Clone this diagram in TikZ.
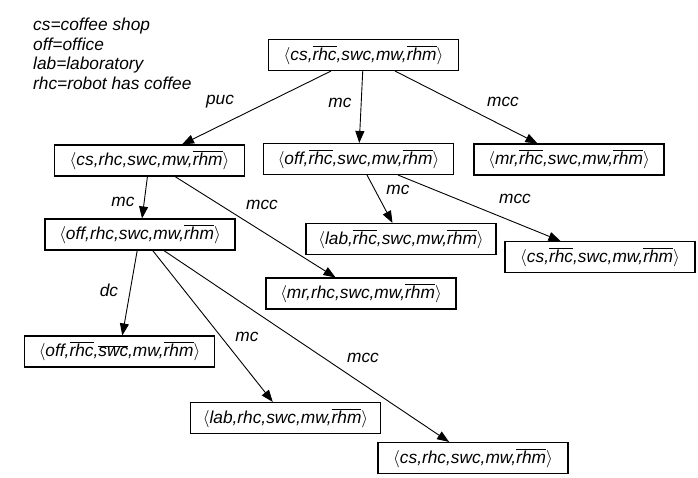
\documentclass[tikz,border=0pt]{standalone}
\usepackage{fontspec}
\setmainfont{Liberation Sans}
\usetikzlibrary{arrows.meta}
\newcommand{\nb}[1]{$\overline{\mbox{#1}}$}
\newcommand{\tup}[1]{$\langle$#1$\rangle$}
\tikzset{
  state/.style={draw, line width=1.1pt, minimum width=190pt, minimum height=31pt, inner sep=0pt},
  act/.style={inner sep=0pt},
  key/.style={anchor=west, inner sep=0pt, text height=0.75em, text depth=0.25em}
}
\begin{document}
\begin{tikzpicture}[x=1pt, y=-1pt, font=\fontsize{17.3}{19.5}\selectfont\itshape]
      \useasboundingbox (0,0) rectangle (698,477);
      \draw
        (33,28.3) node[key] (k0){cs=coffee shop}
        (33,47.6) node[key] (k1){off=office}
        (33,67.2) node[key] (k2){lab=laboratory}
        (33,86.6) node[key] (k3){rhc=robot has coffee};
      \draw
        (363.5,55) node[state] (0){\tup{cs,\nb{rhc},swc,mw,\nb{rhm}}}
        (149.5,160.5) node[state] (1){\tup{cs,rhc,swc,mw,\nb{rhm}}}
        (358.5,159) node[state] (2){\tup{off,\nb{rhc},swc,mw,\nb{rhm}}}
        (569,159.5) node[state] (3){\tup{mr,\nb{rhc},swc,mw,\nb{rhm}}}
        (140,234.5) node[state] (4){\tup{off,rhc,swc,mw,\nb{rhm}}}
        (361,293.5) node[state] (5){\tup{mr,rhc,swc,mw,\nb{rhm}}}
        (401,239) node[state] (6){\tup{lab,\nb{rhc},swc,mw,\nb{rhm}}}
        (600,257) node[state] (7){\tup{cs,\nb{rhc},swc,mw,\nb{rhm}}}
        (119.5,351.5) node[state] (8){\tup{off,\nb{rhc},\nb{swc},mw,\nb{rhm}}}
        (285.5,418) node[state] (9){\tup{lab,rhc,swc,mw,\nb{rhm}}}
        (473,458) node[state] (10){\tup{cs,rhc,swc,mw,\nb{rhm}}};
      \draw
        (220,102) node[act] (l01){puc}
        (340,103) node[act] (l02){mc}
        (503,102) node[act] (l03){mcc}
        (123,202) node[act] (l14){mc}
        (262,205) node[act] (l15){mcc}
        (398,190) node[act] (l26){mc}
        (515,199) node[act] (l27){mcc}
        (109,290) node[act] (l48){dc}
        (247,337) node[act] (l49){mc}
        (363,358) node[act] (l410){mcc};
      \begin{scope}[-{Triangle[length=12pt,width=9pt]}, line width=0.9pt]
        \draw (0) to (1);
        \draw (0) to (2);
        \draw (0) to (3);
        \draw (1) to (4);
        \draw (1) to (5);
        \draw (2) to (6);
        \draw (2) to (7);
        \draw (4) to (8);
        \draw (4) to (9);
        \draw (4) to (10);
      \end{scope}
    \end{tikzpicture}
\end{document}
